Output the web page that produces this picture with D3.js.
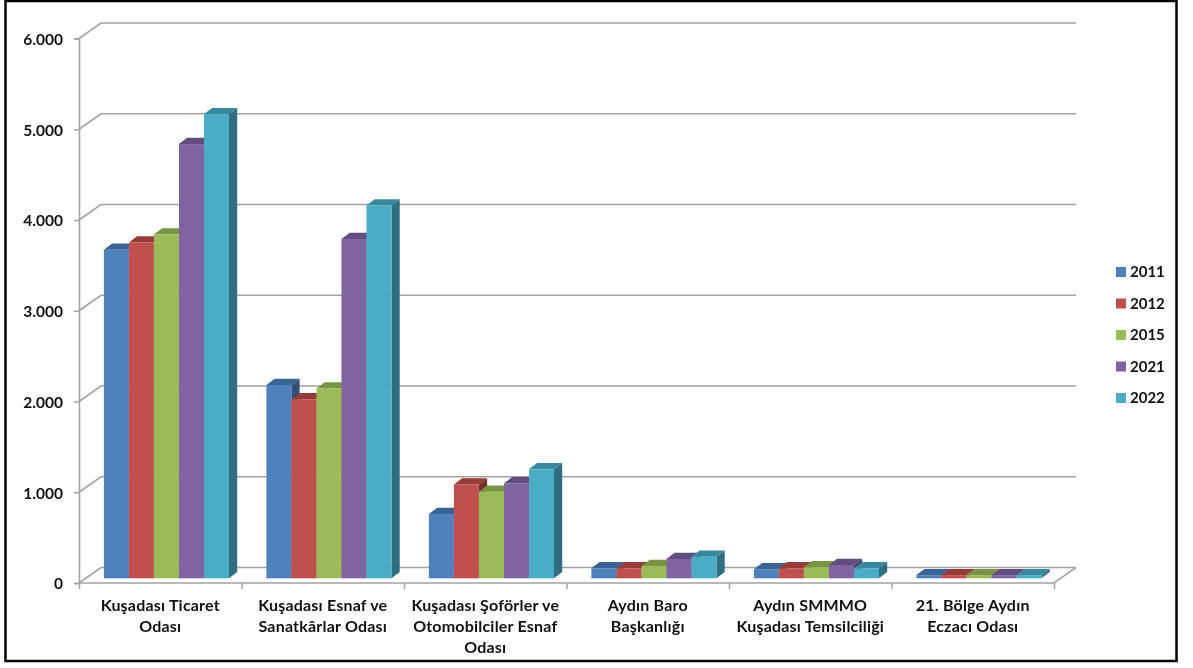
<!DOCTYPE html>
<html>
<head>
<meta charset="utf-8">
<script src="https://cdn.jsdelivr.net/npm/d3@7/dist/d3.min.js"></script>
<style>
html, body { margin: 0; padding: 0; background: #fff; }
svg { display: block; filter: blur(0.4px); }
text { font-family: Lato, "Open Sans", sans-serif; font-weight: 700; fill: #111; }
.grid { stroke: #a3a3a3; stroke-width: 1.6; fill: none; }
</style>
</head>
<body>
<script>
var categories = [
    ['Kuşadası Ticaret', 'Odası'],
    ['Kuşadası Esnaf ve', 'Sanatkârlar Odası'],
    ['Kuşadası Şoförler ve', 'Otomobilciler Esnaf', 'Odası'],
    ['Aydın Baro', 'Başkanlığı'],
    ['Aydın SMMMO', 'Kuşadası Temsilciliği'],
    ['21. Bölge Aydın', 'Eczacı Odası']
];
var years = ['2011', '2012', '2015', '2021', '2022'];
var values2011 = [3620, 2130, 709, 110, 100, 35];
var values2012 = [3700, 1973, 1034, 110, 110, 35];
var values2015 = [3790, 2092, 955, 136, 122, 35];
var values2021 = [4785, 3740, 1047, 213, 147, 35];
var values2022 = [5115, 4108, 1201, 238, 110, 35];
var series = [values2011, values2012, values2015, values2021, values2022];
var yTicks = [0, 1000, 2000, 3000, 4000, 5000, 6000];

var colors = ['#4f81bd', '#c0504d', '#9bbb59', '#8064a2', '#4bacc6'];
var topColors = ['#3a6496', '#953c39', '#7a9445', '#634d7f', '#38899f'];
var sideColors = ['#305278', '#7a312f', '#62773a', '#503e66', '#2f6e80'];

var width = 1193;
var height = 668;

var margin = { left: 79, right: 1054, top: 38.5, bottom: 583 };
var wallDx = 22, wallDy = -15.5;   // offset of the back wall
var barDx = 8.2, barDy = -6.2;     // depth of one bar
var barShiftX = 6.2, barShiftY = -4.7; // bars stand a bit inside the floor

var svg = d3.select('body').append('svg').attr('width', width).attr('height', height);

// frame
svg.append('rect').attr('x', 5.5).attr('y', 1).attr('width', 1171).attr('height', 660)
    .attr('fill', '#fff').attr('stroke', '#000').attr('stroke-width', 2.5);

var y = d3.scaleLinear().domain([0, 6000]).range([margin.bottom, margin.top]);

var x = d3.scaleBand()
    .domain(d3.range(categories.length))
    .range([margin.left, margin.right])
    .paddingInner(0.23)
    .paddingOuter(0.115);

var xInner = d3.scaleBand().domain(d3.range(years.length)).range([0, x.bandwidth()]);

var trLocale = d3.formatLocale({ decimal: ',', thousands: '.', grouping: [3], currency: ['', ' TL'] });

// gridlines on the wall and the side wall
var gridGroup = svg.append('g');
gridGroup.selectAll('path.grid')
    .data(yTicks)
    .join('path')
    .attr('class', 'grid')
    .attr('d', function(d) {
        return d3.line()([
            [margin.left, y(d)],
            [margin.left + wallDx, y(d) + wallDy],
            [margin.right + wallDx, y(d) + wallDy]
        ]);
    });
gridGroup.append('path').attr('class', 'grid')
    .attr('d', d3.line()([
        [margin.left, margin.bottom],
        [margin.right, margin.bottom],
        [margin.right + wallDx, margin.bottom + wallDy]
    ]));

// y axis
var yAxis = d3.axisLeft(y)
    .tickValues(yTicks)
    .tickSize(5)
    .tickPadding(11)
    .tickFormat(trLocale.format(','));
var yGroup = svg.append('g')
    .attr('transform', 'translate(' + margin.left + ',0)')
    .call(yAxis);
yGroup.selectAll('text').style('font-size', '15.5px').style('font-family', 'Lato, sans-serif').attr('dy', '0.38em');
yGroup.selectAll('line').attr('stroke', '#a3a3a3').attr('stroke-width', 1.5);
yGroup.select('.domain').attr('stroke', '#a3a3a3').attr('stroke-width', 1.6);

// x axis ticks on the group boundaries
var xBoundary = d3.scaleLinear().domain([0, categories.length]).range([margin.left, margin.right]);
var xAxis = d3.axisBottom(xBoundary)
    .tickValues(d3.range(categories.length + 1))
    .tickSize(6)
    .tickFormat('');
var xGroup = svg.append('g')
    .attr('transform', 'translate(0,' + margin.bottom + ')')
    .call(xAxis);
xGroup.selectAll('line').attr('stroke', '#a3a3a3').attr('stroke-width', 1.5);
xGroup.select('.domain').remove();

// bars
var baseY = margin.bottom + barShiftY;
var barH = function(v) { return y(0) - y(v); };

var groups = svg.selectAll('g.cat')
    .data(categories)
    .join('g')
    .attr('class', 'cat')
    .attr('transform', function(d, i) { return 'translate(' + (x(i) + barShiftX) + ',0)'; });

groups.each(function(d, c) {
    var g = d3.select(this);
    series.forEach(function(vals, s) {
        var x0 = xInner(s), w = xInner.bandwidth();
        var top = baseY - barH(vals[c]);
        g.append('path').attr('fill', topColors[s])
            .attr('d', d3.line()([[x0, top], [x0 + barDx, top + barDy], [x0 + w + barDx, top + barDy], [x0 + w, top]]) + 'Z');
        g.append('path').attr('fill', sideColors[s])
            .attr('d', d3.line()([[x0 + w, top], [x0 + w + barDx, top + barDy], [x0 + w + barDx, baseY + barDy], [x0 + w, baseY]]) + 'Z');
        g.append('rect').attr('fill', colors[s])
            .attr('x', x0).attr('y', top).attr('width', w).attr('height', baseY - top);
    });
});

// category labels
svg.selectAll('text.cat-label')
    .data(categories)
    .join('text')
    .attr('class', 'cat-label')
    .attr('text-anchor', 'middle')
    .style('font-size', '16px')
    .style('letter-spacing', '0.2px')
    .attr('transform', function(d, i) { return 'translate(' + xBoundary(i + 0.5) + ',0)'; })
    .each(function(d) {
        var t = d3.select(this);
        d.forEach(function(line, k) {
            t.append('tspan').attr('x', 0).attr('y', 611 + k * 21).text(line);
        });
    });

// legend
var legendY = d3.scalePoint().domain(years).range([272, 398]);
var legend = svg.selectAll('g.legend')
    .data(years)
    .join('g')
    .attr('class', 'legend')
    .attr('transform', function(d) { return 'translate(1116,' + legendY(d) + ')'; });
legend.append('rect').attr('x', 0).attr('y', -5).attr('width', 10).attr('height', 10)
    .attr('fill', function(d, i) { return colors[i]; });
legend.append('text').attr('x', 14).attr('dy', '0.35em').style('font-size', '15px').text(function(d) { return d; });
</script>
</body>
</html>
